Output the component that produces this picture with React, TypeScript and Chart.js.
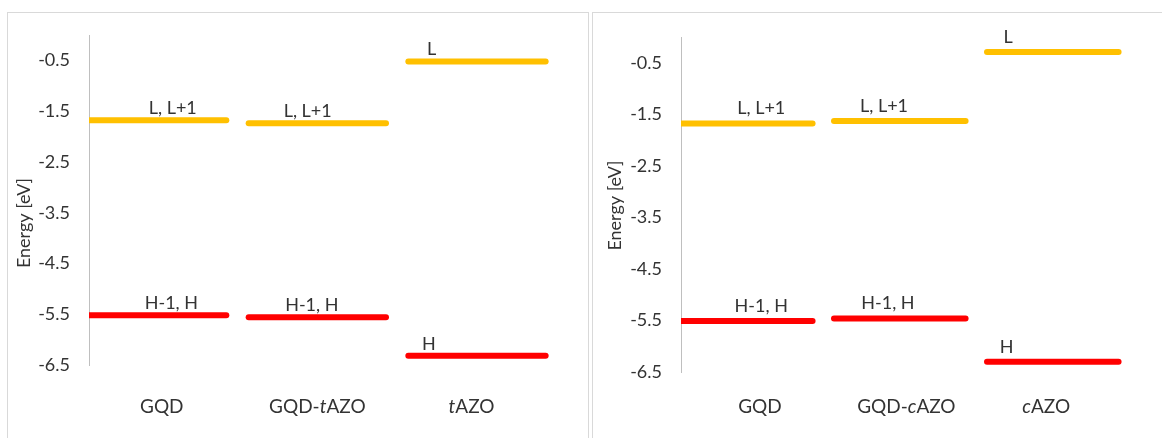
import React, { useEffect, useRef } from "react";
import { Chart, registerables } from "chart.js";

Chart.register(...registerables);

// ---------- data ----------
const leftCategories = ["GQD", "GQD-tAZO", "tAZO"];
const rightCategories = ["GQD", "GQD-cAZO", "cAZO"];
const lumoLabels = ["L, L+1", "L, L+1", "L"];
const homoLabels = ["H-1, H", "H-1, H", "H"];
const leftLumo = [-1.68, -1.74, -0.52];
const leftHomo = [-5.52, -5.56, -6.32];
const rightLumo = [-1.68, -1.63, -0.29];
const rightHomo = [-5.51, -5.46, -6.3];
const yTicks = [-6.5, -5.5, -4.5, -3.5, -2.5, -1.5, -0.5];
const yMin = -6.5;
const yMax = 0;
const yTitle = "Energy [eV]";

// ---------- style ----------
const FONT = "Lato";
const TEXT = "#333333";
const LUMO_COLOR = "#FFC000";
const HOMO_COLOR = "#FF0000";
const AXIS_COLOR = "#BFBFBF";
const BAR = 0.86;

type PanelCfg = {
  categories: string[];
  lumo: number[];
  homo: number[];
  lumoFrac: number[];
  homoFrac: number[];
  catFrac: number[];
  axisWidth: number;
  padTop: number;
  padBottom: number;
  padRight: number;
  width: number;
  height: number;
  titleX: number;
  titleDY: number;
  labelDY: number;
  catY: number;
};

const leftPanel: PanelCfg = {
  categories: leftCategories,
  lumo: leftLumo,
  homo: leftHomo,
  lumoFrac: [0.61, 0.43, 0.17],
  homoFrac: [0.6, 0.46, 0.15],
  catFrac: [0.53, 0.5, 0.46],
  axisWidth: 81,
  padTop: 22,
  padBottom: 73,
  padRight: 20,
  width: 580,
  height: 425,
  titleX: 16.5,
  titleDY: 23,
  labelDY: 12,
  catY: 394,
};

const rightPanel: PanelCfg = {
  categories: rightCategories,
  lumo: rightLumo,
  homo: rightHomo,
  lumoFrac: [0.61, 0.38, 0.16],
  homoFrac: [0.61, 0.41, 0.15],
  catFrac: [0.6, 0.55, 0.45],
  axisWidth: 88,
  padTop: 24,
  padBottom: 66,
  padRight: 22,
  width: 569,
  height: 425,
  titleX: 22,
  titleDY: 1,
  labelDY: 15,
  catY: 394,
};

function drawMixed(ctx: CanvasRenderingContext2D, text: string, cx: number, cy: number, size: number) {
  // lowercase letters drawn italic
  const runs: { t: string; it: boolean }[] = [];
  for (const ch of text) {
    const it = /[a-z]/.test(ch);
    const last = runs[runs.length - 1];
    if (last && last.it === it) last.t += ch;
    else runs.push({ t: ch, it });
  }
  const fontFor = (it: boolean) => `${it ? "italic " : ""}${size}px ${FONT}`;
  let total = 0;
  const widths = runs.map((r) => {
    ctx.font = fontFor(r.it);
    const w = ctx.measureText(r.t).width;
    total += w;
    return w;
  });
  let x = cx - total / 2;
  ctx.textAlign = "left";
  ctx.textBaseline = "middle";
  runs.forEach((r, i) => {
    ctx.font = fontFor(r.it);
    ctx.fillText(r.t, x, cy);
    x += widths[i];
  });
}

function Panel({ cfg }: { cfg: PanelCfg }) {
  const ref = useRef<HTMLCanvasElement | null>(null);
  useEffect(() => {
    if (!ref.current) return;
    const common = {
      borderWidth: 6,
      borderCapStyle: "round",
      pointRadius: 0,
      fill: false,
      clip: 0,
    };
    const datasets: any[] = [];
    cfg.lumo.forEach((v, i) =>
      datasets.push({
        ...common,
        data: [{ x: i, y: v }, { x: i + BAR, y: v }],
        borderColor: LUMO_COLOR,
        levelLabel: lumoLabels[i],
        labelFrac: cfg.lumoFrac[i],
      })
    );
    cfg.homo.forEach((v, i) =>
      datasets.push({
        ...common,
        data: [{ x: i, y: v }, { x: i + BAR, y: v }],
        borderColor: HOMO_COLOR,
        levelLabel: homoLabels[i],
        labelFrac: cfg.homoFrac[i],
      })
    );

    const labelsPlugin = {
      id: "levelLabels",
      afterDraw(chart: any) {
        const ctx: CanvasRenderingContext2D = chart.ctx;
        const area = chart.chartArea;
        const xs = chart.scales.x;
        ctx.save();
        ctx.fillStyle = TEXT;
        // level labels
        chart.data.datasets.forEach((ds: any, di: number) => {
          const meta = chart.getDatasetMeta(di);
          const p0 = meta.data[0];
          const p1 = meta.data[1];
          const x = p0.x + ds.labelFrac * (p1.x - p0.x);
          drawMixed(ctx, ds.levelLabel, x, p0.y - cfg.labelDY, 18);
        });
        // category labels
        cfg.categories.forEach((c, i) => {
          const x = xs.getPixelForValue(i + cfg.catFrac[i] * BAR);
          drawMixed(ctx, c, x, cfg.catY, 19);
        });
        // axis title
        ctx.translate(cfg.titleX, (area.top + area.bottom) / 2 + cfg.titleDY);
        ctx.rotate(-Math.PI / 2);
        ctx.font = `18px ${FONT}`;
        ctx.textAlign = "center";
        ctx.textBaseline = "middle";
        ctx.fillText(yTitle, 0, 0);
        ctx.restore();
      },
    };

    const chart = new Chart(ref.current, {
      type: "line",
      data: { datasets },
      options: {
        animation: false,
        responsive: false,
        devicePixelRatio: 1,
        layout: { padding: { top: cfg.padTop, bottom: cfg.padBottom, right: cfg.padRight, left: 0 } },
        plugins: { legend: { display: false }, tooltip: { enabled: false } },
        elements: { point: { radius: 0 } },
        scales: {
          x: { type: "linear", min: 0, max: 3, display: false },
          y: {
            type: "linear",
            min: yMin,
            max: yMax,
            afterBuildTicks: (s: any) => {
              s.ticks = yTicks.map((v) => ({ value: v }));
            },
            afterFit: (s: any) => {
              s.width = cfg.axisWidth;
            },
            grid: {
              display: true,
              drawOnChartArea: false,
              drawTicks: true,
              tickLength: 19,
              color: "rgba(0,0,0,0)",
            },
            border: { display: true, color: AXIS_COLOR, width: 1 },
            ticks: {
              padding: 0,
              color: TEXT,
              font: { family: FONT, size: 18 },
              callback: (v: any) => String(v),
            },
          },
        },
      } as any,
      plugins: [labelsPlugin],
    } as any);
    return () => chart.destroy();
  }, [cfg]);
  return <canvas ref={ref} width={cfg.width} height={cfg.height} style={{ display: "block" }} />;
}

export default function App() {
  return (
    <div
      style={{
        position: "fixed",
        left: 0,
        top: 0,
        width: 1162,
        height: 438,
        background: "#fff",
        overflow: "hidden",
      }}
    >
      <div
        style={{
          position: "absolute",
          left: 7,
          top: 12,
          width: 582,
          height: 460,
          boxSizing: "border-box",
          border: "1px solid #D9D9D9",
        }}
      >
        <Panel cfg={leftPanel} />
      </div>
      <div
        style={{
          position: "absolute",
          left: 592,
          top: 12,
          width: 600,
          height: 460,
          boxSizing: "border-box",
          border: "1px solid #D9D9D9",
        }}
      >
        <Panel cfg={rightPanel} />
      </div>
    </div>
  );
}
